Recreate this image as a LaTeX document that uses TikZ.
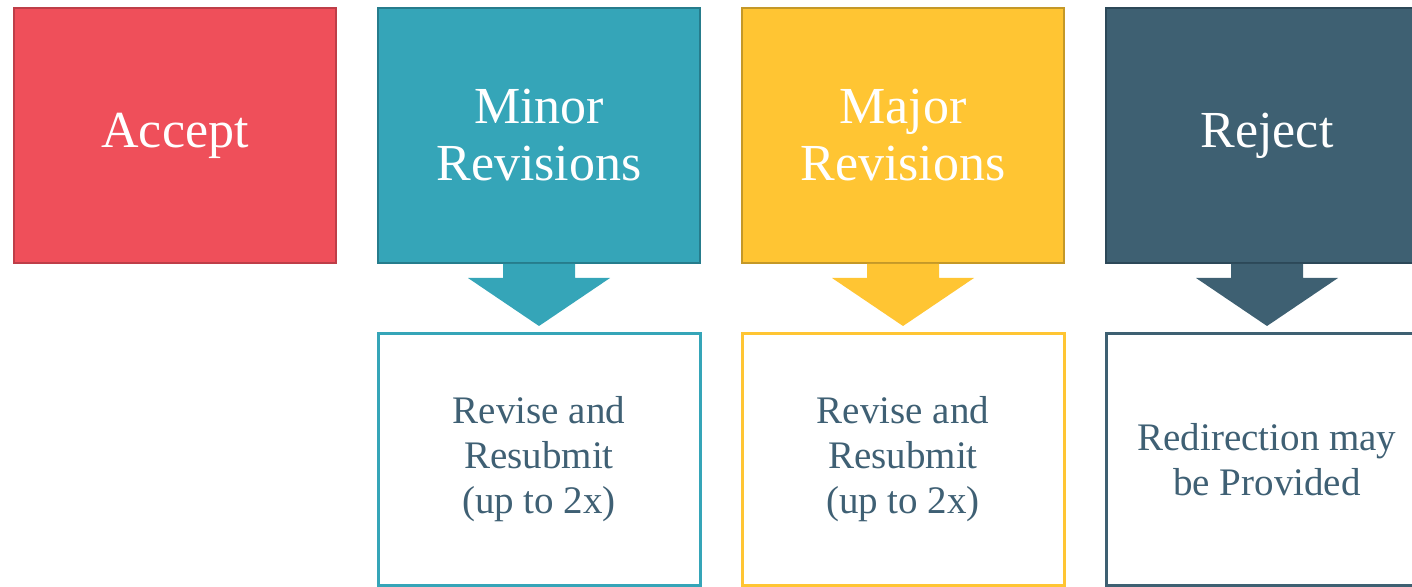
\documentclass[tikz,border=0pt]{standalone}
\usepackage{fontspec}
\setmainfont{Liberation Serif}
\usepackage{tikz}
\usetikzlibrary{calc,positioning}
\definecolor{acceptred}{RGB}{239,79,90}
\definecolor{acceptedge}{RGB}{190,62,72}
\definecolor{minorteal}{RGB}{53,165,184}
\definecolor{minoredge}{RGB}{38,124,140}
\definecolor{majoryellow}{RGB}{255,197,51}
\definecolor{majoredge}{RGB}{196,152,40}
\definecolor{rejectslate}{RGB}{62,96,114}
\definecolor{rejectedge}{RGB}{44,72,88}
\definecolor{notetext}{RGB}{63,96,116}

\begin{document}
\begin{tikzpicture}[x=0.5pt,y=-0.5pt,
    decision/.style={draw,line width=1pt,minimum width=161pt,minimum height=127.5pt,
        text=white,font=\fontsize{26}{28.5}\selectfont,align=center,inner sep=0pt},
    note/.style={fill=white,line width=1.5pt,minimum width=161pt,minimum height=126pt,
        text=notetext,font=\fontsize{19.5}{22.5}\selectfont,align=center,inner sep=0pt}]
    % Page
    \useasboundingbox (0,0) rectangle (1412,587);
    \clip (0,0) rectangle (1412,587);
    % Arrow macro: stem and head from a decision box down to its note
    \def\revarrow#1#2#3{%
        \fill[#3] ($(#1.south)+(-36,0)$) -- ($(#1.south)+(36,0)$) -- ($(#1.south)+(36,14)$)
            -- ($(#1.south)+(71,14)$) -- ($(#2.north)+(0,-6)$) -- ($(#1.south)+(-71,14)$)
            -- ($(#1.south)+(-36,14)$) -- cycle;}
    % Decision boxes
    \node[decision,fill=acceptred,draw=acceptedge] (accept) at (175,135.5) {Accept};
    \node[decision,fill=minorteal,draw=minoredge] (minor) at (539,135.5) {Minor\\Revisions};
    \node[decision,fill=majoryellow,draw=majoredge] (major) at (903,135.5) {Major\\Revisions};
    \node[decision,fill=rejectslate,draw=rejectedge] (reject) at (1267,135.5) {Reject};
    % Notes
    \node[note,draw=minorteal] (minornote) at (539,459.5) {Revise and\\Resubmit\\(up to 2x)};
    \node[note,draw=majoryellow] (majornote) at (903,459.5) {Revise and\\Resubmit\\(up to 2x)};
    \node[note,draw=rejectslate] (rejectnote) at (1267,459.5) {Redirection may\\be Provided};
    % Arrows
    \revarrow{minor}{minornote}{minorteal}
    \revarrow{major}{majornote}{majoryellow}
    \revarrow{reject}{rejectnote}{rejectslate}
\end{tikzpicture}
\end{document}
